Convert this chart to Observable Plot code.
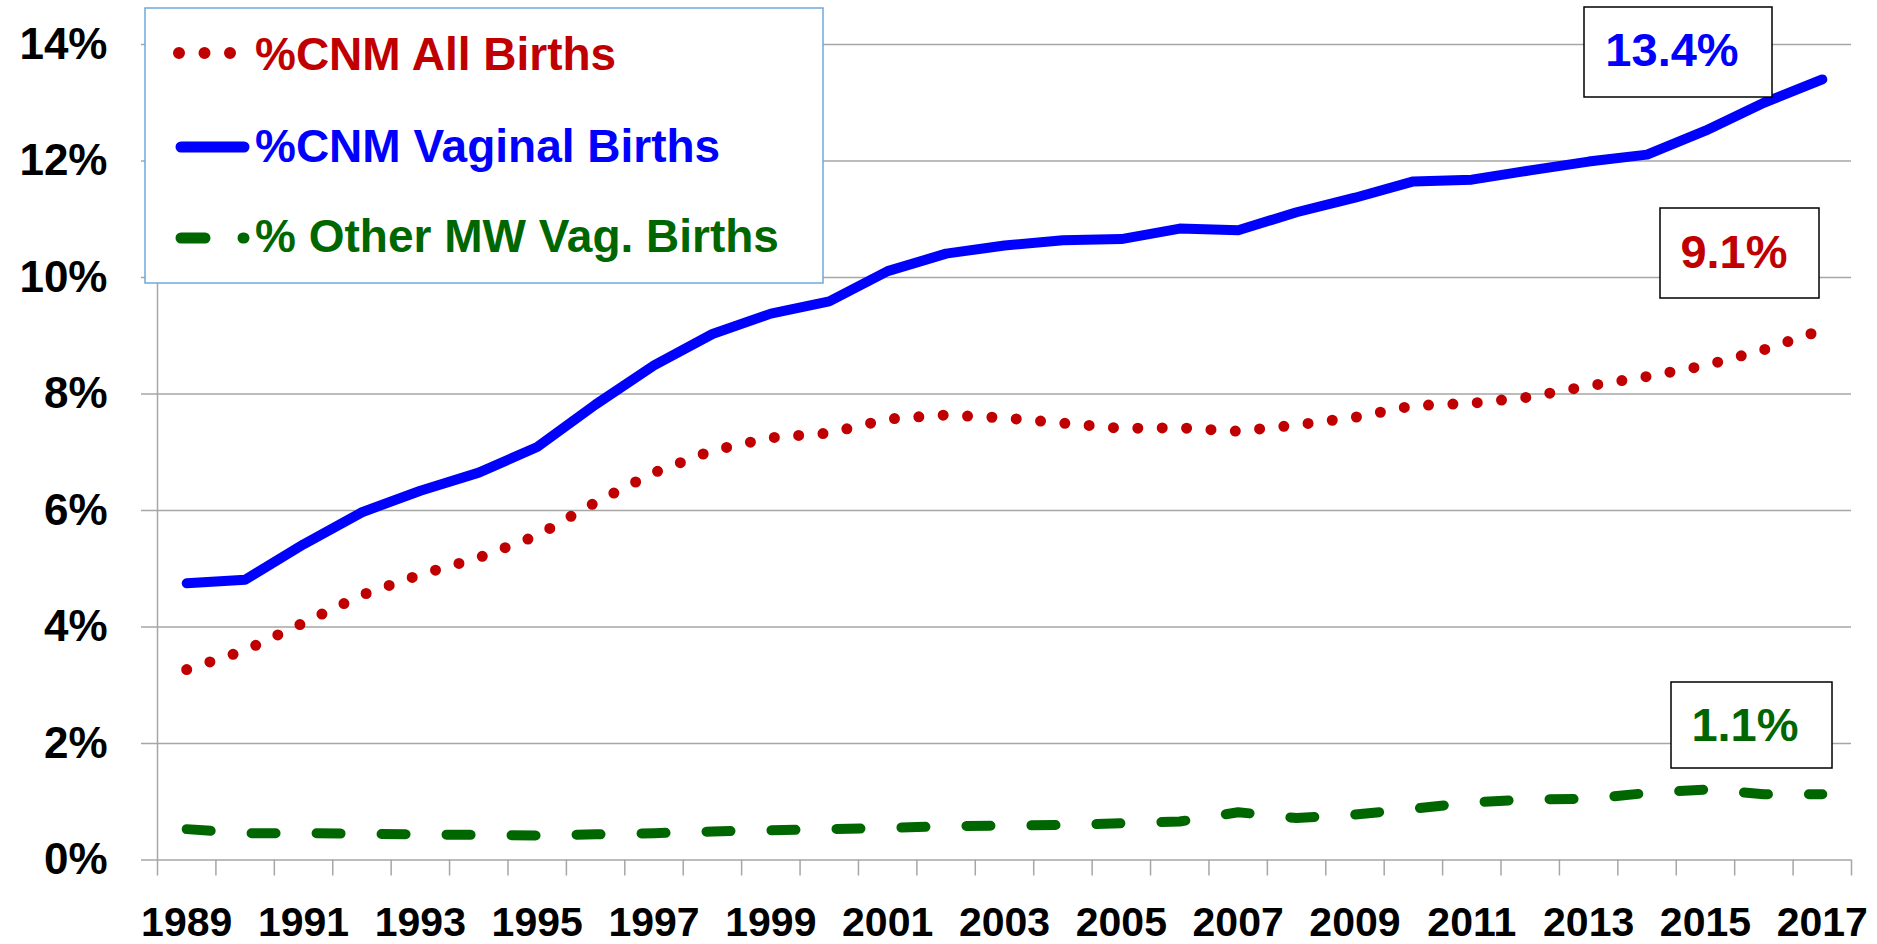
<!DOCTYPE html>
<html>
<head>
<meta charset="utf-8">
<script src="https://cdn.jsdelivr.net/npm/d3@7"></script>
<script src="https://cdn.jsdelivr.net/npm/@observablehq/plot@0.6"></script>
<style>
  html, body { margin: 0; padding: 0; background: #fff; }
  #wrap { position: relative; width: 1877px; height: 944px; }
  #overlay { position: absolute; left: 0; top: 0; pointer-events: none; }
</style>
</head>
<body>
<div id="wrap"></div>
<script>
// ---------------- data ----------------
const years = [1989,1990,1991,1992,1993,1994,1995,1996,1997,1998,1999,2000,2001,2002,2003,
               2004,2005,2006,2007,2008,2009,2010,2011,2012,2013,2014,2015,2016,2017];
const cnmAllBirths = [3.27,3.60,4.07,4.55,4.90,5.19,5.57,6.14,6.65,7.03,7.25,7.33,7.57,7.64,7.59,
                      7.50,7.41,7.42,7.36,7.47,7.60,7.80,7.84,7.95,8.14,8.30,8.49,8.76,9.10];
const cnmVaginalBirths = [4.75,4.81,5.42,5.97,6.34,6.65,7.09,7.82,8.49,9.03,9.38,9.59,10.11,10.41,10.55,
                          10.64,10.66,10.84,10.81,11.12,11.37,11.65,11.68,11.84,11.99,12.11,12.52,13.00,13.40];
const otherMWVagBirths = [0.53,0.46,0.46,0.45,0.44,0.43,0.42,0.44,0.46,0.49,0.51,0.53,0.55,0.58,0.59,
                          0.60,0.63,0.66,0.82,0.72,0.78,0.88,0.99,1.04,1.05,1.15,1.21,1.13,1.13];
const seriesNames = ["%CNM All Births", "%CNM Vaginal Births", "% Other MW Vag. Births"];
const seriesColors = ["#c00000", "#0000ff", "#006600"];
const endLabels = ["9.1%", "13.4%", "1.1%"];
const yTicks = [0, 2, 4, 6, 8, 10, 12, 14];
const xLabelYears = [1989,1991,1993,1995,1997,1999,2001,2003,2005,2007,2009,2011,2013,2015,2017];

// ---------------- chart ----------------
const W = 1877, H = 944;
const FONT = "'Liberation Sans', Arial, Helvetica, sans-serif";
const GRID = "#a6a6a6";

const rows = (vals) => years.map((year, i) => ({year, value: vals[i]}));
const bandEdges = years.map(y => y - 0.5).concat([years[years.length - 1] + 0.5]);

const chart = Plot.plot({
  width: W,
  height: H,
  marginLeft: 157,
  marginRight: 26,
  marginTop: 44,
  marginBottom: 84.5,
  style: {fontFamily: FONT, background: "white", overflow: "visible"},
  x: {type: "linear", domain: [bandEdges[0], bandEdges[bandEdges.length - 1]], label: null},
  y: {domain: [0, 14], label: null},
  marks: [
    Plot.gridY(yTicks, {stroke: GRID, strokeOpacity: 1, strokeWidth: 1.5}),
    Plot.ruleX([bandEdges[0]], {stroke: GRID, strokeWidth: 1.5}),
    Plot.axisY(yTicks, {
      tickSize: 16, tickPadding: 34, stroke: GRID, strokeWidth: 1.5, fill: "#000",
      tickFormat: d => d + "%", fontSize: 44, fontWeight: "bold", label: null
    }),
    Plot.axisX(bandEdges, {
      tickSize: 16, stroke: GRID, strokeWidth: 1.5, tickFormat: () => "", label: null
    }),
    Plot.axisX(xLabelYears, {
      tickSize: 0, tickPadding: 47, fill: "#000", tickFormat: d => String(d),
      fontSize: 41, fontWeight: "bold", label: null
    }),
    Plot.line(rows(cnmAllBirths), {
      x: "year", y: "value", stroke: seriesColors[0], strokeWidth: 11,
      strokeDasharray: "0 24.4", strokeLinecap: "round", strokeLinejoin: "round"
    }),
    Plot.line(rows(cnmVaginalBirths), {
      x: "year", y: "value", stroke: seriesColors[1], strokeWidth: 10,
      strokeLinecap: "round", strokeLinejoin: "round"
    }),
    Plot.line(rows(otherMWVagBirths), {
      x: "year", y: "value", stroke: seriesColors[2], strokeWidth: 10,
      strokeDasharray: "24 41", strokeLinecap: "round", strokeLinejoin: "round"
    })
  ]
});

const wrap = document.getElementById("wrap");
wrap.appendChild(chart);

// ---------------- legend & end-value boxes (overlay) ----------------
const ov = d3.select(wrap).append("svg")
  .attr("id", "overlay")
  .attr("width", W).attr("height", H)
  .style("font-family", FONT);

// legend box
ov.append("rect")
  .attr("x", 145).attr("y", 8).attr("width", 678).attr("height", 275)
  .attr("fill", "#fff").attr("stroke", "#6fa8dc").attr("stroke-width", 1.5);

// sample 1: dotted
ov.append("line")
  .attr("x1", 179).attr("x2", 231).attr("y1", 53).attr("y2", 53)
  .attr("stroke", seriesColors[0]).attr("stroke-width", 12)
  .attr("stroke-linecap", "round").attr("stroke-dasharray", "0 25.5");
// sample 2: solid
ov.append("line")
  .attr("x1", 181).attr("x2", 244).attr("y1", 147).attr("y2", 147)
  .attr("stroke", seriesColors[1]).attr("stroke-width", 11)
  .attr("stroke-linecap", "round");
// sample 3: dashed
ov.append("line")
  .attr("x1", 181).attr("x2", 244).attr("y1", 238).attr("y2", 238)
  .attr("stroke", seriesColors[2]).attr("stroke-width", 11)
  .attr("stroke-linecap", "round").attr("stroke-dasharray", "24 38");

const legendBaselines = [69.5, 161.5, 252];
seriesNames.forEach((name, i) => {
  ov.append("text")
    .attr("x", 255).attr("y", legendBaselines[i])
    .attr("fill", seriesColors[i])
    .attr("font-size", 46).attr("font-weight", "bold")
    .text(name);
});

// end-value boxes
const boxes = [
  {x: 1660, y: 208, w: 159, h: 90, cx: 1734, base: 268},
  {x: 1584, y: 7, w: 188, h: 90, cx: 1672, base: 66},
  {x: 1671, y: 682, w: 161, h: 86, cx: 1745, base: 741}
];
boxes.forEach((b, i) => {
  ov.append("rect")
    .attr("x", b.x).attr("y", b.y).attr("width", b.w).attr("height", b.h)
    .attr("fill", "#fff").attr("stroke", "#000").attr("stroke-width", 1.5);
  ov.append("text")
    .attr("x", b.cx).attr("y", b.base)
    .attr("text-anchor", "middle")
    .attr("fill", seriesColors[i])
    .attr("font-size", 47).attr("font-weight", "bold")
    .text(endLabels[i]);
});
</script>
</body>
</html>
